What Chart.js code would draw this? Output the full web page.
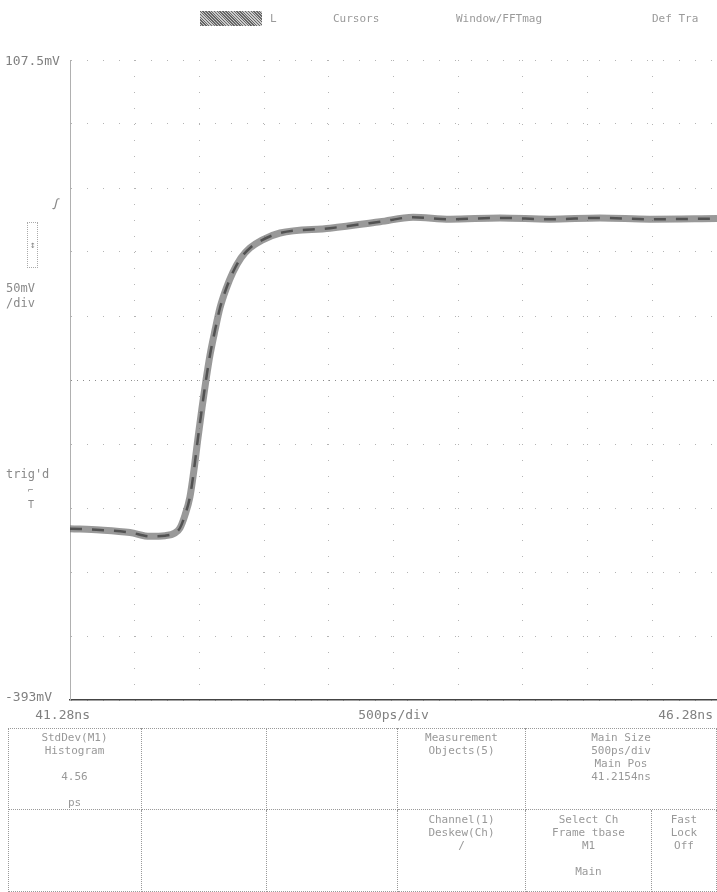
<!DOCTYPE html>
<html>
<head>
<meta charset="utf-8">
<title>Step response</title>
<script src="https://cdn.jsdelivr.net/npm/chart.js@4.4.1/dist/chart.umd.min.js"></script>
<style>
    html, body { margin: 0; padding: 0; background: #fff; }
    body { width: 717px; height: 892px; position: relative; overflow: hidden;
           font-family: "DejaVu Sans Mono", monospace; color: #8a8a8a; }
    #scope { position: absolute; left: 0; top: 0; }
    .t { position: absolute; white-space: nowrap; font-size: 12px; line-height: 13px; }
    .menu { font-size: 11px; color: #9a9a9a; }
    .btn { position: absolute; left: 200px; top: 11px; width: 62px; height: 15px;
           background: repeating-linear-gradient(45deg, #666 0 1px, #ccc 1px 2px); }
    .tbl { position: absolute; border-left: 1px dotted #999; border-top: 1px dotted #999;
           box-sizing: border-box; }
    .cell { position: absolute; box-sizing: border-box; border-right: 1px dotted #999;
            border-bottom: 1px dotted #999; text-align: center; font-size: 11px;
            line-height: 13px; color: #999; }
    .cell div { margin-top: 3px; }
</style>
</head>
<body>
<canvas id="scope" width="717" height="892"></canvas>

<!-- menu bar -->
<div class="btn"></div>
<div class="t menu" style="left:270px;top:12px">L</div>
<div class="t menu" style="left:333px;top:12px">Cursors</div>
<div class="t menu" style="left:456px;top:12px">Window/FFTmag</div>
<div class="t menu" style="left:652px;top:12px">Def Tra</div>

<!-- left side readouts -->
<div class="t" style="left:52px;top:198px;font-size:14px;font-style:italic">ꭍ</div>
<div class="t" style="left:27px;top:222px;width:9px;height:44px;border:1px dotted #aaa;font-size:10px;text-align:center;line-height:44px">↕</div>
<div class="t" style="left:6px;top:282px">50mV</div>
<div class="t" style="left:6px;top:297px">/div</div>
<div class="t" style="left:6px;top:468px">trig'd</div>
<div class="t" style="left:28px;top:484px;font-size:9px">⌐</div>
<div class="t" style="left:28px;top:498px;font-size:10px">T</div>

<!-- readout table -->
<div class="tbl" style="left:8px;top:728px;width:709px;height:164px"></div>
<div class="cell" style="left:8px;top:728px;width:134px;height:82px"><div>StdDev(M1)<br>Histogram<br><br>4.56<br><br>ps</div></div>
<div class="cell" style="left:142px;top:728px;width:125px;height:82px"></div>
<div class="cell" style="left:267px;top:728px;width:131px;height:82px"></div>
<div class="cell" style="left:398px;top:728px;width:128px;height:82px"><div>Measurement<br>Objects(5)</div></div>
<div class="cell" style="left:526px;top:728px;width:191px;height:82px"><div>Main Size<br>500ps/div<br>Main Pos<br>41.2154ns</div></div>
<div class="cell" style="left:8px;top:810px;width:134px;height:82px"></div>
<div class="cell" style="left:142px;top:810px;width:125px;height:82px"></div>
<div class="cell" style="left:267px;top:810px;width:131px;height:82px"></div>
<div class="cell" style="left:398px;top:810px;width:128px;height:82px"><div>Channel(1)<br>Deskew(Ch)<br>/</div></div>
<div class="cell" style="left:526px;top:810px;width:126px;height:82px"><div>Select Ch<br>Frame tbase<br>M1<br><br>Main</div></div>
<div class="cell" style="left:652px;top:810px;width:65px;height:82px"><div>Fast<br>Lock<br>Off</div></div>

<script>
// trace: time in ns, amplitude in mV
const timeNs = [41.28, 41.512, 41.744, 41.898, 42.014, 42.091, 42.130, 42.169, 42.207,
    42.238, 42.269, 42.300, 42.331, 42.362, 42.401, 42.439, 42.486, 42.540, 42.601,
    42.671, 42.764, 42.903, 43.289, 43.676, 43.931, 44.217, 44.603, 44.989, 45.376,
    45.762, 46.28];
const levelMv = [-259, -260, -262, -265, -264.5, -262.4, -258.5, -248.3, -234.2,
    -213.1, -188.1, -164.6, -142.8, -123.2, -103.7, -86.4, -71.6, -58.3, -47.3,
    -39.5, -33.3, -27.8, -24, -19, -15.5, -17, -16, -17, -16,
    -17, -16.5];

// graticule: 10 x 10 divisions
const xGrid = [41.28, 41.78, 42.28, 42.78, 43.28, 43.78, 44.28, 44.78, 45.28, 45.78, 46.28];
const yGrid = [-393, -342.95, -292.9, -242.85, -192.8, -142.75, -92.7, -42.65, 7.4, 57.45, 107.5];

// screen labels
const yEndLabels = ['107.5mV', '-393mV'];
const xEndLabels = ['41.28ns', '500ps/div', '46.28ns'];

(function () {
    'use strict';

    const points = timeNs.map((t, i) => ({ x: t, y: levelMv[i] }));

    const screenLabels = {
        id: 'screenLabels',
        afterDraw(chart) {
            const { ctx, scales: { x, y } } = chart;
            ctx.save();
            ctx.font = '13px "DejaVu Sans Mono", monospace';
            ctx.fillStyle = '#808080';
            ctx.textBaseline = 'middle';
            ctx.textAlign = 'left';
            ctx.fillText(yEndLabels[0], 5, y.getPixelForValue(y.max) + 2);
            ctx.fillText(yEndLabels[1], 5, y.getPixelForValue(y.min) - 2);
            const yl = y.getPixelForValue(y.min) + 16;
            ctx.textAlign = 'right';
            ctx.fillText(xEndLabels[0], x.getPixelForValue(x.min) + 20, yl);
            ctx.textAlign = 'center';
            ctx.fillText(xEndLabels[1], (x.left + x.right) / 2, yl);
            ctx.textAlign = 'right';
            ctx.fillText(xEndLabels[2], x.getPixelForValue(x.max) - 4, yl);
            ctx.restore();
        },
    };

    new Chart(document.getElementById('scope'), {
        type: 'line',
        data: {
            datasets: [{
                data: points,
                borderColor: 'rgba(110,110,110,0.7)',
                borderWidth: 7,
                pointRadius: 0,
                cubicInterpolationMode: 'monotone',
            }, {
                data: points,
                borderColor: '#111',
                borderWidth: 2.5,
                borderDash: [12, 10],
                pointRadius: 0,
                cubicInterpolationMode: 'monotone',
            }],
        },
        options: {
            responsive: false,
            animation: false,
            events: [],
            layout: { padding: { left: 70, top: 60, right: 0, bottom: 192 } },
            plugins: { legend: { display: false }, tooltip: { enabled: false } },
            scales: {
                x: {
                    type: 'linear',
                    min: 41.28,
                    max: 46.28,
                    afterBuildTicks: axis => { axis.ticks = xGrid.map(v => ({ value: v })); },
                    ticks: { display: false },
                    grid: { color: '#b4b4b4', lineWidth: 1, drawTicks: false },
                    border: { display: true, color: '#444', width: 1.5, dash: [1, 15] },
                },
                y: {
                    min: -393,
                    max: 107.5,
                    afterBuildTicks: axis => { axis.ticks = yGrid.map(v => ({ value: v })); },
                    ticks: { display: false },
                    grid: {
                        color: ctx => (ctx.index === 5 ? '#8c8c8c' : '#b4b4b4'),
                        lineWidth: 1,
                        drawTicks: false,
                    },
                    border: {
                        display: true,
                        color: '#b0b0b0',
                        width: 1,
                        dash: ctx => (ctx.index === 5 ? [1, 5] : [1, 15]),
                    },
                },
            },
        },
        plugins: [screenLabels],
    });
})();
</script>
</body>
</html>
